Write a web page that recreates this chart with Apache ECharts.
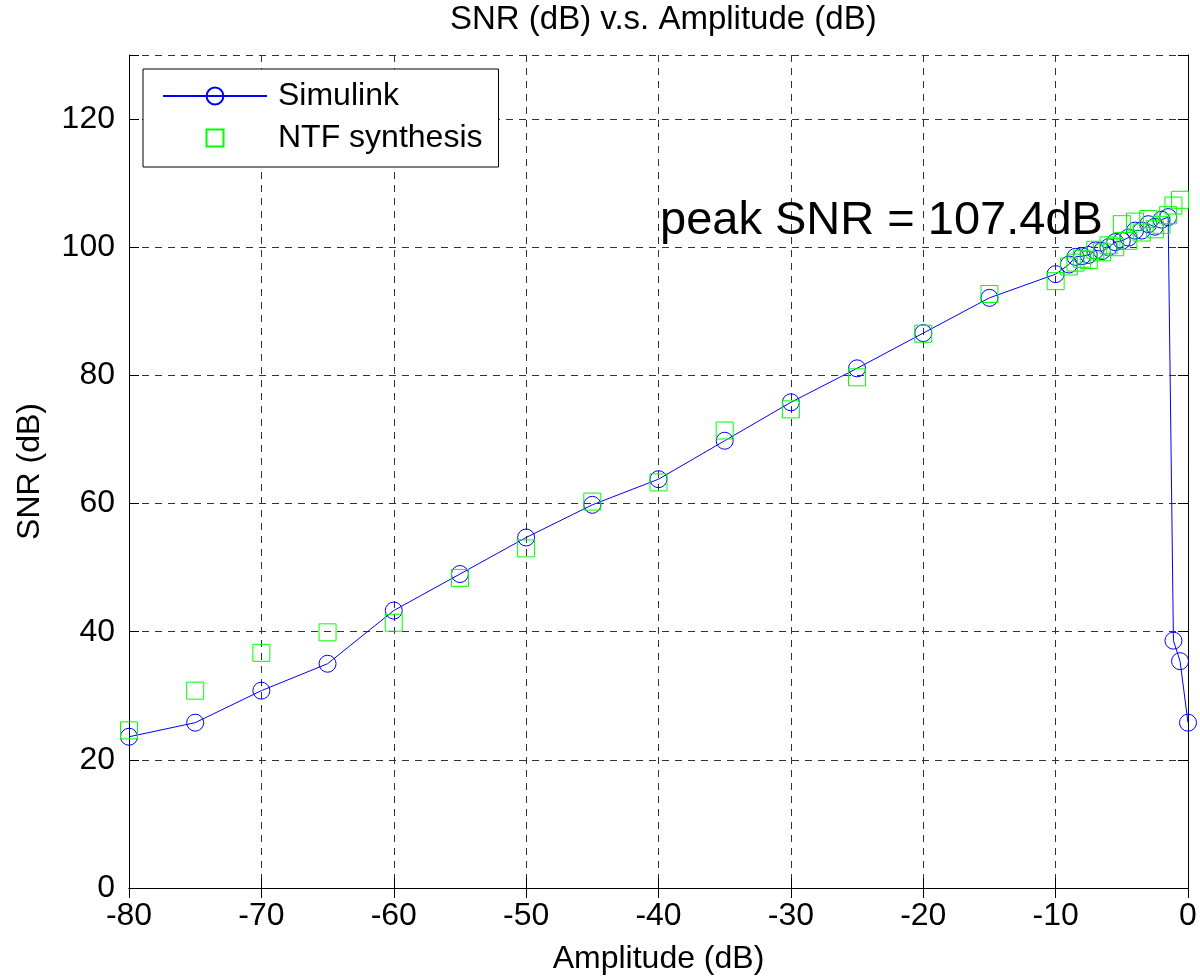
<!DOCTYPE html>
<html lang="en">
<head>
    <meta charset="UTF-8">
    <title>SNR vs Amplitude</title>
    <script type="text/javascript" src="https://cdn.jsdelivr.net/npm/echarts@6/dist/echarts.min.js"></script>
    <style>
        html, body { margin: 0; padding: 0; background: #fff; }
        #chart { width: 1200px; height: 980px; }
    </style>
</head>
<body>
<div id="chart"></div>
<script type="text/javascript">
    // Simulink 仿真结果
    var simAmp = [-80, -75, -70, -65, -60, -55, -50, -45, -40, -35, -30, -25, -20, -15, -10,
        -9, -8.5, -8, -7.5, -7, -6.5, -6, -5.5, -5, -4.5, -4, -3.5, -3, -2.5, -2, -1.5,
        -1.1, -0.6, 0];
    var simSnr = [23.6, 25.8, 30.8, 35.0, 43.3, 49.0, 54.7, 59.8, 63.8, 69.8, 75.8, 81.1, 86.6, 92.1, 95.8,
        97.3, 98.5, 98.6, 98.8, 99.5, 99.4, 100.0, 100.8, 101.0, 101.5, 102.6, 102.6, 103.6, 103.2, 104.3, 104.7,
        38.6, 35.4, 25.8];
    // NTF synthesis 预测值
    var ntfAmp = [-80, -75, -70, -65, -60, -55, -50, -45, -40, -35, -30, -25, -20, -15, -10,
        -9, -8.5, -8, -7.5, -7, -6.5, -6, -5.5, -5, -4.5, -4, -3.5, -3, -2.5, -2, -1.5,
        -1.1, -0.6];
    var ntfSnr = [24.6, 30.8, 36.7, 39.9, 41.4, 48.4, 53.0, 60.3, 63.3, 71.4, 74.7, 79.7, 86.5, 92.7, 94.7,
        97.0, 97.6, 98.2, 98.0, 99.6, 99.2, 100.3, 100.0, 103.6, 101.0, 104.0, 102.3, 104.4, 102.8, 103.5, 105.0,
        106.5, 107.4];
    var peakText = 'peak SNR = 107.4dB';

    var font = 'Liberation Sans, Arial, Helvetica, sans-serif';
    var gridDash = { color: '#333', type: [7, 6], width: 1 };

    function zip(xs, ys) {
        return xs.map(function (x, i) { return [x, ys[i]]; });
    }

    // 上边和右边的框线（MATLAB box on）
    var boxAxis = {
        axisLine: { show: true, lineStyle: { color: '#000', width: 1 } },
        axisTick: { show: true, inside: true, length: 10, lineStyle: { color: '#000' } },
        axisLabel: { show: false },
        splitLine: { show: false }
    };

    var option = {
        animation: false,
        backgroundColor: '#fff',
        title: {
            text: 'SNR (dB) v.s. Amplitude (dB)',
            left: 445,
            top: -2,
            textStyle: { fontFamily: font, fontSize: 33, fontWeight: 'normal', color: '#000' }
        },
        grid: { left: 129, right: 12, top: 55, bottom: 92 },
        legend: {
            orient: 'vertical',
            left: 143,
            top: 69,
            padding: [11, 16, 13, 19],
            itemGap: 10,
            itemWidth: 104,
            itemHeight: 21,
            borderColor: '#000',
            borderWidth: 1,
            backgroundColor: '#fff',
            selectedMode: false,
            textStyle: { fontFamily: font, fontSize: 32, color: '#000', padding: [0, 0, 0, 6] },
            data: [
                'Simulink',
                // 图例里的方块保持正方形
                { name: 'NTF synthesis', icon: 'path://M0,0 M104,21 M43.5,2 L60.5,2 L60.5,19 L43.5,19 Z' }
            ]
        },
        xAxis: [{
            type: 'value',
            min: -80,
            max: 0,
            interval: 10,
            name: 'Amplitude (dB)',
            nameLocation: 'middle',
            nameGap: 55,
            nameTextStyle: { fontFamily: font, fontSize: 32, color: '#000' },
            axisLine: { show: true, onZero: false, lineStyle: { color: '#000', width: 1 } },
            axisTick: { show: true, inside: true, length: 10, lineStyle: { color: '#000' } },
            axisLabel: { fontFamily: font, fontSize: 32, color: '#000', margin: 12 },
            splitLine: { show: true, lineStyle: gridDash }
        }, Object.assign({ type: 'value', position: 'top', min: -80, max: 0, interval: 10 }, boxAxis)],
        yAxis: [{
            type: 'value',
            min: 0,
            max: 130,
            interval: 20,
            name: 'SNR (dB)',
            nameLocation: 'middle',
            nameGap: 83,
            nameTextStyle: { fontFamily: font, fontSize: 32, color: '#000' },
            axisLine: { show: true, onZero: false, lineStyle: { color: '#000', width: 1 } },
            axisTick: { show: true, inside: true, length: 10, lineStyle: { color: '#000' } },
            axisLabel: {
                fontFamily: font, fontSize: 32, color: '#000', margin: 14,
                formatter: function (v) { return v > 120 ? '' : v; }
            },
            splitLine: { show: true, lineStyle: gridDash }
        }, Object.assign({ type: 'value', position: 'right', min: 0, max: 130, interval: 20 }, boxAxis)],
        series: [
            {
                name: 'Simulink',
                type: 'line',
                data: zip(simAmp, simSnr),
                symbol: 'circle',
                symbolSize: 17,
                showAllSymbol: true,
                clip: false,
                lineStyle: { color: '#0000ff', width: 1 },
                itemStyle: { color: 'transparent', borderColor: '#0000ff', borderWidth: 1 },
                z: 3
            },
            {
                name: 'NTF synthesis',
                type: 'scatter',
                data: zip(ntfAmp, ntfSnr),
                symbol: 'rect',
                symbolSize: 17,
                clip: false,
                itemStyle: { color: 'transparent', borderColor: '#00ff00', borderWidth: 1, opacity: 1 },
                z: 4
            }
        ],
        graphic: [{
            type: 'text',
            x: 660,
            y: 221,
            z: 10,
            style: {
                text: peakText,
                fontFamily: font,
                fontSize: 47,
                fill: '#000',
                verticalAlign: 'middle'
            }
        }]
    };

    var myChart = echarts.init(document.getElementById('chart'));
    myChart.setOption(option);
</script>
</body>
</html>
